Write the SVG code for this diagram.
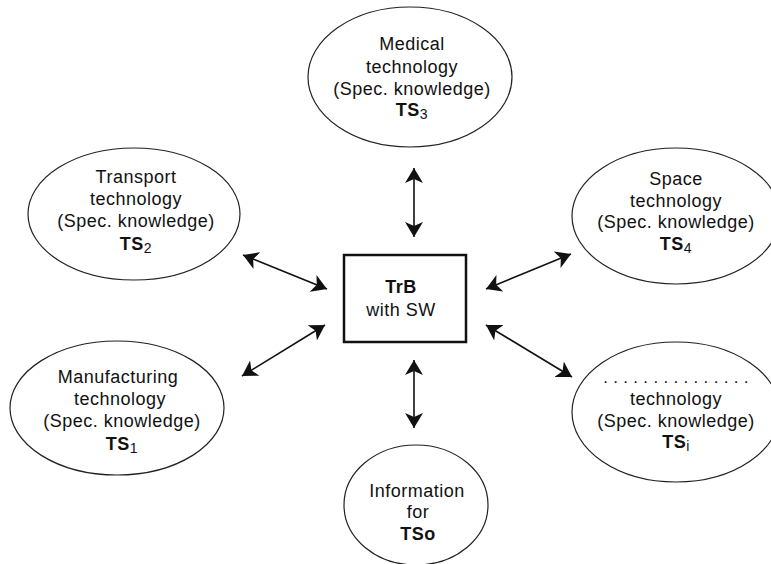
<svg xmlns="http://www.w3.org/2000/svg" width="771" height="564" viewBox="0 0 771 564">
<style>
.el{fill:#fff;stroke:#222;stroke-width:1.2}
.t{font-family:"Liberation Sans",Arial,sans-serif;font-size:18px;fill:#111;text-anchor:middle;letter-spacing:0.5px}
.b{font-weight:bold}
.sub{font-size:14px;font-weight:normal}
.ar{stroke:#111;stroke-width:1.6;fill:none;marker-start:url(#ah);marker-end:url(#ah)}
</style>
<defs>
<marker id="ah" markerUnits="userSpaceOnUse" markerWidth="16" markerHeight="18" refX="15" refY="9" orient="auto-start-reverse" viewBox="0 0 16 18">
<path d="M15,9 L0,0 L4,9 L0,18 Z" fill="#111"/>
</marker>
</defs>
<rect width="771" height="564" fill="#fff"/>
<g id="connectors">
<line class="ar" x1="414" y1="168" x2="414" y2="237"/>
<line class="ar" x1="414" y1="360" x2="414" y2="428"/>
<line class="ar" x1="243" y1="255" x2="327" y2="289"/>
<line class="ar" x1="242" y1="376" x2="325" y2="325"/>
<line class="ar" x1="571" y1="254" x2="486" y2="289"/>
<line class="ar" x1="572" y1="377" x2="486" y2="325"/>
</g>
<g id="medical">
<ellipse class="el" cx="410" cy="77" rx="102" ry="70"/>
<text class="t" x="412" y="50">Medical</text>
<text class="t" x="412" y="73">technology</text>
<text class="t" x="412" y="95">(Spec. knowledge)</text>
<text class="t b" x="412" y="116">TS<tspan class="sub" dy="3">3</tspan></text>
</g>
<g id="transport">
<ellipse class="el" cx="134" cy="214" rx="106" ry="66"/>
<text class="t" x="136" y="183">Transport</text>
<text class="t" x="136" y="205">technology</text>
<text class="t" x="136" y="227">(Spec. knowledge)</text>
<text class="t b" x="136" y="250">TS<tspan class="sub" dy="3">2</tspan></text>
</g>
<g id="space">
<ellipse class="el" cx="676" cy="216" rx="104" ry="68"/>
<text class="t" x="676" y="185">Space</text>
<text class="t" x="676" y="207">technology</text>
<text class="t" x="676" y="228">(Spec. knowledge)</text>
<text class="t b" x="676" y="250">TS<tspan class="sub" dy="3">4</tspan></text>
</g>
<g id="trb">
<rect x="344" y="255" width="122" height="87" fill="#fff" stroke="#111" stroke-width="2.5"/>
<text class="t b" x="401" y="293">TrB</text>
<text class="t" x="401" y="316">with SW</text>
</g>
<g id="manufacturing">
<ellipse class="el" cx="117" cy="408" rx="107" ry="67"/>
<text class="t" x="118" y="383">Manufacturing</text>
<text class="t" x="120" y="405">technology</text>
<text class="t" x="122" y="427">(Spec. knowledge)</text>
<text class="t b" x="122" y="450">TS<tspan class="sub" dy="3">1</tspan></text>
</g>
<g id="tsi">
<ellipse class="el" cx="676" cy="412" rx="104" ry="70"/>
<text class="t" x="676" y="383" style="letter-spacing:0.3px;font-size:17px">. . . . . . . . . . . . . . .</text>
<text class="t" x="676" y="405">technology</text>
<text class="t" x="676" y="427">(Spec. knowledge)</text>
<text class="t b" x="676" y="448">TS<tspan class="sub" dy="3">i</tspan></text>
</g>
<g id="information">
<ellipse class="el" cx="416" cy="505" rx="72" ry="60"/>
<text class="t" x="417" y="497">Information</text>
<text class="t" x="418" y="518">for</text>
<text class="t b" x="418" y="540">TSo</text>
</g>
</svg>
